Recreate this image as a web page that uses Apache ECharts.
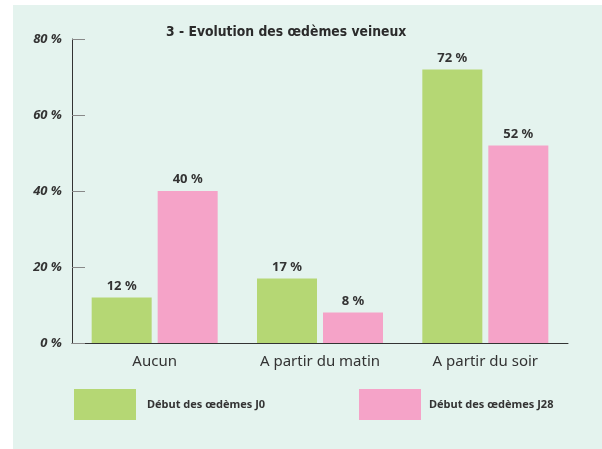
<!DOCTYPE html>
<html><head><meta charset="utf-8">
<script src="https://cdn.jsdelivr.net/npm/echarts@6/dist/echarts.min.js"></script>
<style>html,body{margin:0;padding:0;background:#fff;}#c{width:602px;height:449px;}</style>
</head><body><div id="c"></div>
<script>
const categories = ['Aucun', 'A partir du matin', 'A partir du soir'];
const seriesNames = ['Début des œdèmes J0', 'Début des œdèmes J28'];
const valuesJ0 = [12, 17, 72];
const valuesJ28 = [40, 8, 52];
const titleText = '3 - Evolution des œdèmes veineux';

const chart = echarts.init(document.getElementById('c'));
const FONT = '"Noto Sans", "Open Sans", sans-serif';
const labelStyle = {show: true, position: 'top', distance: 5, formatter: p => p.value + ' %', fontFamily: FONT, fontWeight: 'bold', fontSize: 13, color: '#333'};
chart.setOption({
  backgroundColor: '#fff',
  animation: false,
  graphic: [{type: 'rect', shape: {x: 13, y: 5, width: 589, height: 444}, style: {fill: '#e4f3ee'}, z: -10, silent: true}],
  title: {text: titleText, left: 166, top: 25, padding: 0, textStyle: {fontFamily: '"DejaVu Sans Condensed", "Noto Sans", sans-serif', fontWeight: 'bold', fontSize: 13.8, color: '#2b2b2b'}},
  grid: {left: 72, right: 34, top: 39, bottom: 106, containLabel: false},
  legend: [
    {data: [seriesNames[0]], left: 74, top: 389, padding: 0, itemWidth: 62, itemHeight: 31, icon: 'rect',
     textStyle: {fontFamily: FONT, fontWeight: 'bold', fontSize: 11, color: '#333', padding: [0, 0, 0, 6]}},
    {data: [seriesNames[1]], left: 359, top: 389, padding: 0, itemWidth: 62, itemHeight: 31, icon: 'rect',
     textStyle: {fontFamily: FONT, fontWeight: 'bold', fontSize: 11, color: '#333', padding: [0, 0, 0, 3]}}
  ],
  xAxis: {type: 'category', data: categories,
    axisLine: {lineStyle: {color: '#333', width: 1}},
    axisTick: {inside: true, length: 6, lineStyle: {color: '#555'}},
    axisLabel: {fontFamily: FONT, fontSize: 15, color: '#333', margin: 11}},
  yAxis: {type: 'value', min: 0, max: 80, interval: 20,
    axisLine: {show: true, lineStyle: {color: '#333', width: 1}},
    axisTick: {show: true, inside: true, length: 13, lineStyle: {color: '#888'}},
    splitLine: {show: false},
    axisLabel: {formatter: v => v + ' %', fontFamily: FONT, fontStyle: 'italic', fontWeight: 'bold', fontSize: 13, color: '#333', margin: 10}},
  series: [
    {name: seriesNames[0], type: 'bar', data: valuesJ0, barWidth: 60, barGap: '10%', itemStyle: {color: '#b5d774'}, label: labelStyle},
    {name: seriesNames[1], type: 'bar', data: valuesJ28, barWidth: 60, itemStyle: {color: '#f5a3c8'}, label: labelStyle}
  ]
});
</script></body></html>
